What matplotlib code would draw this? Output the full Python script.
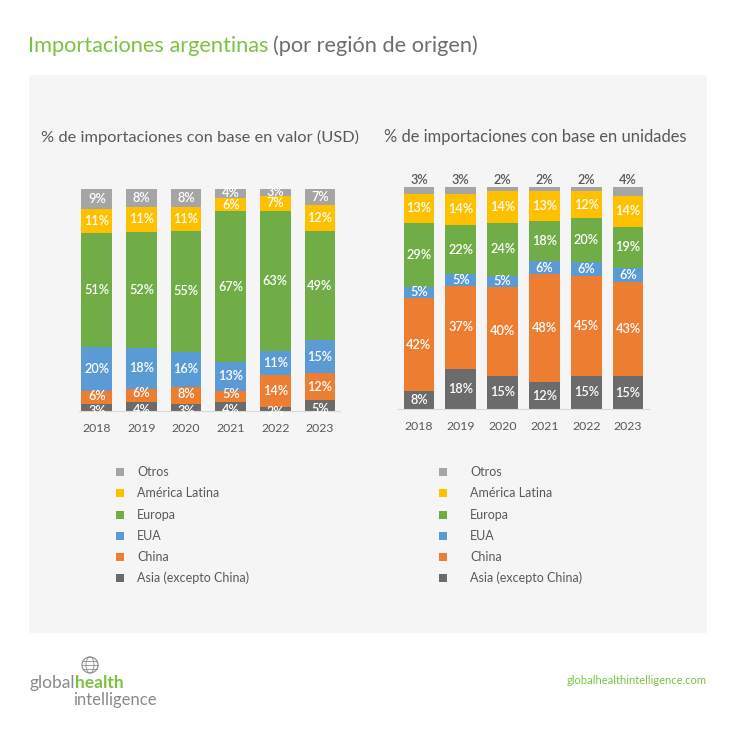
import numpy as np
import matplotlib
matplotlib.use("Agg")
import matplotlib.pyplot as plt
from matplotlib.patches import Rectangle, Circle, Ellipse

plt.rcParams['font.family'] = ['Lato', 'DejaVu Sans']

years = ['2018', '2019', '2020', '2021', '2022', '2023']
regions = ['Asia (excepto China)', 'China', 'EUA', 'Europa', 'América Latina', 'Otros']
colors = ['#6b6b6b', '#ed7d31', '#5b9bd5', '#70ad47', '#ffc000', '#a5a5a5']

# valor (USD), bottom to top: Asia, China, EUA, Europa, AL, Otros
asia_usd = [3, 4, 3, 4, 2, 5]
china_usd = [6, 6, 8, 5, 14, 12]
eua_usd = [20, 18, 16, 13, 11, 15]
europa_usd = [51, 52, 55, 67, 63, 49]
al_usd = [11, 11, 11, 6, 7, 12]
otros_usd = [9, 8, 8, 4, 3, 7]

# unidades
asia_u = [8, 18, 15, 12, 15, 15]
china_u = [42, 37, 40, 48, 45, 43]
eua_u = [5, 5, 5, 6, 6, 6]
europa_u = [29, 22, 24, 18, 20, 19]
al_u = [13, 14, 14, 13, 12, 14]
otros_u = [3, 3, 2, 2, 2, 4]

W, H = 736, 737
fig = plt.figure(figsize=(W / 100, H / 100), dpi=100)
fig.patch.set_facecolor('white')


def fx(px):
    return px / W


def fy(py):
    return 1 - py / H


# gray panel
fig.patches.append(Rectangle((fx(29), fy(633)), fx(706.5) - fx(29), fy(75) - fy(633),
                             transform=fig.transFigure, facecolor='#f5f5f5',
                             edgecolor='none', zorder=-5))

# title
t1 = fig.text(fx(28), fy(46), 'Importaciones argentinas', color='#7cc242',
              fontsize=15.7, va='center', ha='left')
fig.canvas.draw()
bb = t1.get_window_extent()
fig.text(bb.x1 / W + 0.006, fy(46), '(por región de origen)', color='#6d6d6d',
         fontsize=15.7, va='center', ha='left')

fig.text(fx(200), fy(137), '% de importaciones con base en valor (USD)',
         color='#595959', fontsize=11.8, ha='center', va='center')
fig.text(fx(535), fy(137), '% de importaciones con base en unidades',
         color='#595959', fontsize=11.9, ha='center', va='center')


def draw(ax, series, width, otros_above):
    data = np.array(series, dtype=float)
    data = data / data.sum(axis=0) * 100
    x = np.arange(len(years))
    bottom = np.zeros(len(years))
    for i, vals in enumerate(data):
        ax.bar(x, vals, width, bottom=bottom, color=colors[i], zorder=2)
        for j in range(len(years)):
            lab = f'{series[i][j]}%'
            if i == len(data) - 1 and otros_above:
                ax.text(x[j], bottom[j] + vals[j] + 0.3, lab, ha='center', va='bottom',
                        color='#595959', fontsize=9.2, fontweight='semibold')
            else:
                # small nudge so the two lowest labels don't collide in thin segments
                nudge = {0: -2.5, 1: 1.5}.get(i, 0) if vals[j] < 8 else 0
                ax.annotate(lab, (x[j], bottom[j] + vals[j] / 2), xytext=(0, nudge),
                            textcoords='offset points', ha='center', va='center',
                            color='white', fontsize=9.2, fontweight='semibold', zorder=3)
        bottom += vals
    ax.set_ylim(0, 100)
    ax.set_xticks(x)
    ax.set_xticklabels(years, color='#595959', fontsize=8.8)
    ax.tick_params(axis='x', length=0, pad=9)
    ax.set_yticks([])
    for s in ['top', 'right', 'left']:
        ax.spines[s].set_visible(False)
    ax.spines['bottom'].set_color('#d9d9d9')
    ax.set_facecolor('none')


ax1 = fig.add_axes([fx(79), fy(411), fx(340) - fx(79), (411 - 189) / H])
ax1.set_xlim(-0.4, 5.45)
draw(ax1, [asia_usd, china_usd, eua_usd, europa_usd, al_usd, otros_usd], 0.69, False)

ax2 = fig.add_axes([fx(398), fy(409), fx(649) - fx(398), (409 - 187) / H])
ax2.set_xlim(-0.5, 5.5)
draw(ax2, [asia_u, china_u, eua_u, europa_u, al_u, otros_u], 0.73, True)

# legends
rows = [472, 493, 515, 536, 557, 578]
for mx, tx in [(120, 137), (443, 470)]:
    for k, r in enumerate(rows):
        idx = len(regions) - 1 - k
        fig.patches.append(Rectangle((fx(mx - 4), fy(r + 4)), 8 / W, 8 / H,
                                     transform=fig.transFigure, facecolor=colors[idx],
                                     edgecolor='none'))
        fig.text(fx(tx), fy(r), regions[idx], color='#595959', fontsize=9,
                 ha='left', va='center')

# logo
g = fig.text(fx(29), fy(683), 'global', color='#8a8a8a', fontsize=12.5, ha='left', va='center')
fig.canvas.draw()
gb = g.get_window_extent()
fig.text(gb.x1 / W, fy(683), 'health', color='#7cc242', fontsize=12.5,
         fontweight='bold', ha='left', va='center')
fig.text(fx(73), fy(700), 'intelligence', color='#8a8a8a', fontsize=12,
         ha='left', va='center')
gx, gy, gr = 90, 665, 8
fig.patches.append(Circle((fx(gx), fy(gy)), gr / W, transform=fig.transFigure,
                          facecolor='none', edgecolor='#8a8a8a', linewidth=0.8))
fig.patches.append(Ellipse((fx(gx), fy(gy)), gr / W, 2 * gr / H, transform=fig.transFigure,
                           facecolor='none', edgecolor='#8a8a8a', linewidth=0.6))
for dy in [-4, 0, 4]:
    hw = np.sqrt(gr ** 2 - dy ** 2)
    fig.lines.append(plt.Line2D([fx(gx - hw), fx(gx + hw)], [fy(gy + dy), fy(gy + dy)],
                                transform=fig.transFigure, color='#8a8a8a', linewidth=0.6))

fig.text(fx(707), fy(681), 'globalhealthintelligence.com', color='#7cc242',
         fontsize=8, ha='right', va='center')

fig.savefig('out.png', dpi=100, facecolor='white')
